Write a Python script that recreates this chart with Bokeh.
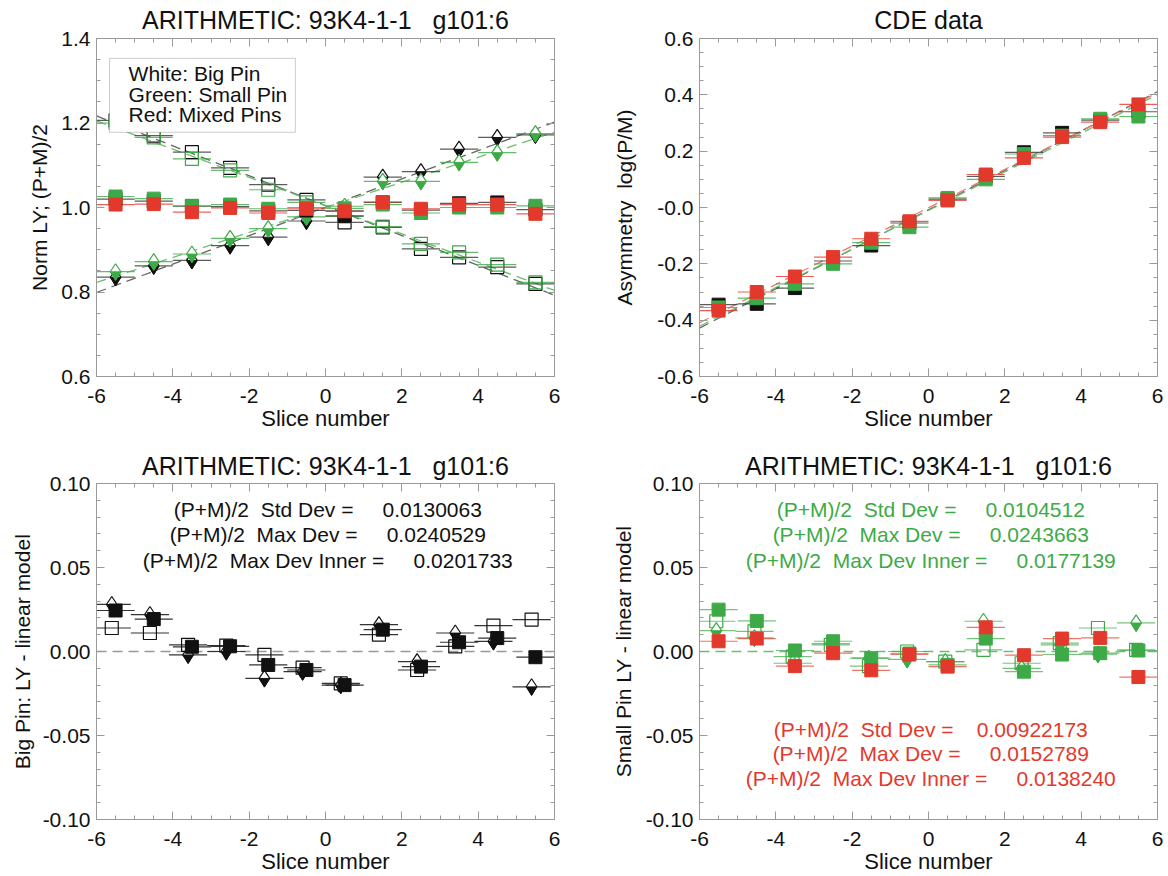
import numpy as np
from bokeh.plotting import figure
from bokeh.layouts import column, row
from bokeh.models import (FixedTicker, LinearAxis, Range1d, NumeralTickFormatter,
                          Label, BoxAnnotation, CustomLabelingPolicy)
from bokeh.embed import file_html
from bokeh.resources import INLINE

FONT = "Liberation Sans"
FRAME = "#9a9a9a"
BLACK = "#111111"
GREEN = "#3daa47"
RED = "#e3392c"
TEXT = "#111111"

# ---------------- data ----------------
slices = [-5.5, -4.5, -3.5, -2.5, -1.5, -0.5, 0.5, 1.5, 2.5, 3.5, 4.5, 5.5]

# top-left: normalised LY
big_p = [0.835, 0.862, 0.875, 0.910, 0.930, 0.968, 0.992, 1.072, 1.085, 1.138, 1.166, 1.172]
big_m = [1.206, 1.170, 1.131, 1.094, 1.054, 1.018, 0.965, 0.953, 0.902, 0.882, 0.859, 0.819]
big_avg = [1.020, 1.015, 1.003, 1.002, 0.992, 0.993, 0.980, 1.012, 0.994, 1.010, 1.012, 0.995]
small_p = [0.848, 0.872, 0.890, 0.927, 0.950, 0.978, 1.003, 1.062, 1.062, 1.107, 1.130, 1.175]
small_m = [1.200, 1.166, 1.115, 1.088, 1.042, 1.012, 0.979, 0.955, 0.914, 0.894, 0.865, 0.823]
small_avg = [1.026, 1.021, 1.004, 1.007, 0.997, 1.000, 0.998, 1.007, 0.987, 1.000, 1.000, 1.004]
mixed_avg = [1.007, 1.008, 0.989, 0.999, 0.987, 0.997, 0.991, 1.013, 0.997, 1.007, 1.007, 0.985]

# top-right: asymmetry log(P/M)
asym_big = [-0.345, -0.342, -0.286, -0.190, -0.135, -0.055, 0.030, 0.110, 0.196, 0.265, 0.310, 0.340]
asym_small = [-0.355, -0.322, -0.271, -0.200, -0.125, -0.070, 0.034, 0.100, 0.190, 0.255, 0.315, 0.323]
asym_mixed = [-0.366, -0.300, -0.245, -0.176, -0.111, -0.049, 0.025, 0.117, 0.176, 0.250, 0.303, 0.366]

# bottom-left: big pin residuals
res_big_p = [0.028, 0.022, -0.002, 0.000, -0.016, -0.012, -0.020, 0.016, -0.006, 0.011, 0.006, -0.021]
res_big_m = [0.014, 0.011, 0.004, 0.0035, -0.002, -0.0096, -0.019, 0.010, -0.011, 0.003, 0.0154, 0.019]
res_big_avg = [0.0244, 0.0193, 0.0028, 0.0031, -0.008, -0.011, -0.020, 0.013, -0.009, 0.0055, 0.008, -0.0034]

# bottom-right: small pin and mixed pin residuals
res_small_p = [0.0124, 0.0081, -0.007, 0.0047, -0.004, -0.0047, -0.006, 0.018, -0.010, 0.004, -0.0016, 0.017]
res_small_m = [0.018, 0.012, -0.003, 0.004, -0.0087, 0.000, -0.006, 0.001, -0.007, 0.005, 0.014, 0.001]
res_small_avg = [0.0249, 0.0182, 0.0006, 0.0061, -0.004, -0.0012, -0.008, 0.0077, -0.012, -0.0018, -0.001, 0.0006]
res_mixed_avg = [0.0061, 0.0077, -0.0087, -0.001, -0.0112, -0.0018, -0.009, 0.0144, -0.0022, 0.0077, 0.0081, -0.0152]

# tick labels
x_ticks = [-6, -4, -2, 0, 2, 4, 6]
norm_ticks = [0.6, 0.8, 1.0, 1.2, 1.4]
asym_ticks = [-0.6, -0.4, -0.2, 0.0, 0.2, 0.4, 0.6]
res_ticks = [-0.10, -0.05, 0.0, 0.05, 0.10]

NB = "\u00a0"
def nb(s):
    return s.replace(" ", NB)

title_arith = nb("ARITHMETIC: 93K4-1-1   g101:6")
title_cde = "CDE data"
legend_lines = ["White: Big Pin", "Green: Small Pin", "Red: Mixed Pins"]
big_stats = ["(P+M)/2  Std Dev =     0.0130063",
             "(P+M)/2  Max Dev =     0.0240529",
             "(P+M)/2  Max Dev Inner =     0.0201733"]
small_stats = ["(P+M)/2  Std Dev =     0.0104512",
               "(P+M)/2  Max Dev =     0.0243663",
               "(P+M)/2  Max Dev Inner =     0.0177139"]
mixed_stats = ["(P+M)/2  Std Dev =    0.00922173",
               "(P+M)/2  Max Dev =     0.0152789",
               "(P+M)/2  Max Dev Inner =     0.0138240"]

xs = np.array(slices)


def minors(ticks, n):
    out = []
    for a, b in zip(ticks[:-1], ticks[1:]):
        step = (b - a) / n
        out += [round(a + k * step, 6) for k in range(1, n)]
    return out


def tick_axis(ax, ticks, nminor, fmt=None, labels=True, overrides=None):
    ax.ticker = FixedTicker(ticks=list(ticks), minor_ticks=minors(list(ticks), nminor))
    ax.axis_line_color = FRAME
    ax.major_tick_line_color = FRAME
    ax.minor_tick_line_color = FRAME
    ax.major_tick_in = 8
    ax.major_tick_out = 0
    ax.minor_tick_in = 4
    ax.minor_tick_out = 0
    if labels:
        ax.formatter = NumeralTickFormatter(format=fmt)
        ax.major_label_text_font = FONT
        ax.major_label_text_font_size = "21px"
        ax.major_label_text_color = TEXT
        if overrides:
            ax.major_label_overrides = overrides
    else:
        ax.major_label_policy = CustomLabelingPolicy(code="return new Set()")
        ax.major_label_text_font_size = "1px"
        ax.major_label_standoff = 0


def make_fig(w, h, left, right, top, bottom, yr, yticks, yminor, yfmt, ylabel,
             title, title_standoff, ylab_standoff, overrides=None):
    p = figure(width=w, height=h, x_range=Range1d(-6, 6), y_range=Range1d(*yr),
               output_backend="svg", toolbar_location=None,
               x_axis_type=None, y_axis_type=None,
               min_border_left=left, min_border_right=right,
               min_border_top=top, min_border_bottom=bottom)
    p.outline_line_color = FRAME
    p.background_fill_color = "white"
    p.border_fill_color = "white"
    xb = LinearAxis(axis_label="Slice number")
    tick_axis(xb, x_ticks, 4, "0")
    xb.major_label_standoff = 12
    xb.axis_label_standoff = 0
    xb.axis_label_text_font = FONT
    xb.axis_label_text_font_size = "22px"
    xb.axis_label_text_font_style = "normal"
    xb.axis_label_text_color = TEXT
    p.add_layout(xb, "below")
    xa = LinearAxis()
    tick_axis(xa, x_ticks, 4, labels=False)
    p.add_layout(xa, "above")
    yl = LinearAxis(axis_label=ylabel)
    tick_axis(yl, yticks, yminor, yfmt, overrides=overrides)
    yl.major_label_standoff = 6
    yl.axis_label_standoff = ylab_standoff
    yl.axis_label_text_font = FONT
    yl.axis_label_text_font_size = "21px"
    yl.axis_label_text_font_style = "normal"
    yl.axis_label_text_color = TEXT
    p.add_layout(yl, "left")
    yr_ax = LinearAxis()
    tick_axis(yr_ax, yticks, yminor, labels=False)
    p.add_layout(yr_ax, "right")
    p.title.text = title
    p.title.align = "center"
    p.title.text_font = FONT
    p.title.text_font_size = "25px"
    p.title.text_font_style = "normal"
    p.title.text_color = TEXT
    p.title.standoff = title_standoff
    return p


def hbar(p, x, y, color, alpha=1.0):
    x = np.asarray(x)
    p.segment(x0=x - 0.5, x1=x + 0.5, y0=y, y1=y, line_color=color, line_width=1.2, line_alpha=alpha)


def open_sq(p, x, y, color):
    p.scatter(x=x, y=y, marker="square", size=13, fill_color=None, line_color=color, line_width=1.2)


def filled_sq(p, x, y, color):
    p.scatter(x=x, y=y, marker="square", size=13, fill_color=color, line_color=color, line_width=1)


def half_diamond(p, x, y, color, yspan):
    dy = 3.0 * yspan / 338.0
    p.scatter(x=x, y=y, marker="diamond", size=16, fill_color="white", line_color=color, line_width=1.2)
    p.scatter(x=x, y=np.asarray(y) - dy, marker="inverted_triangle", size=10,
              fill_color=color, line_color=color, line_width=1)


def fit_line(p, x, y, color):
    k, b = np.polyfit(x, y, 1)
    p.line(x=[-6, 6], y=[k * -6 + b, k * 6 + b], line_color=color, line_dash="10 6", line_width=1.3)


# ---------------- top-left ----------------
p1 = make_fig(584, 438, 96, 30, 38, 62, (0.6, 1.4), norm_ticks, 4, "0.0",
              "Norm LY; (P+M)/2", title_arith, 2, 7)
fit_line(p1, xs, big_p, "#666666")
fit_line(p1, xs, big_m, "#666666")
fit_line(p1, xs, small_p, "#6cbf6f")
fit_line(p1, xs, small_m, "#6cbf6f")
for ser, col in [(big_m, "#333333"), (small_m, GREEN), (big_p, "#333333"), (small_p, GREEN),
                 (big_avg, "#333333"), (small_avg, GREEN), (mixed_avg, RED)]:
    hbar(p1, xs, ser, col, 0.8)
open_sq(p1, xs, big_m, BLACK)
open_sq(p1, xs, small_m, GREEN)
half_diamond(p1, xs, big_p, BLACK, 0.8)
half_diamond(p1, xs, small_p, GREEN, 0.8)
filled_sq(p1, xs, big_avg, BLACK)
filled_sq(p1, xs, small_avg, GREEN)
filled_sq(p1, xs, mixed_avg, RED)
p1.add_layout(BoxAnnotation(left=-5.66, right=-0.79, top=1.353, bottom=1.178,
                            fill_color="white", fill_alpha=1.0, line_color="#555555", line_width=1))
for i, t in enumerate(legend_lines):
    p1.add_layout(Label(x=-5.16, y=1.317 - i * 0.049, text=t, text_font=FONT,
                        text_font_size="21px", text_baseline="middle", text_color=TEXT))

# ---------------- top-right ----------------
p2 = make_fig(584, 438, 115, 11, 38, 62, (-0.6, 0.6), asym_ticks, 4, "0.0",
              nb("Asymmetry  log(P/M)"), title_cde, 2, 18, overrides={0: "-0.0"})
fit_line(p2, xs, asym_big, "#666666")
fit_line(p2, xs, asym_small, "#6cbf6f")
fit_line(p2, xs, asym_mixed, "#ec7b72")
for ser, col in [(asym_big, "#333333"), (asym_small, GREEN), (asym_mixed, RED)]:
    hbar(p2, xs, ser, col, 0.8)
filled_sq(p2, xs, asym_big, BLACK)
filled_sq(p2, xs, asym_small, GREEN)
filled_sq(p2, xs, asym_mixed, RED)

# ---------------- bottom-left ----------------
p3 = make_fig(584, 438, 96, 30, 45, 55, (-0.1, 0.1), res_ticks, 5, "0.00",
              "Big Pin: LY - linear model", title_arith, 0, 6)
p3.line(x=[-6, 6], y=[0, 0], line_color="#999999", line_dash="10 6", line_width=1.3)
xo = xs - 0.1
hbar(p3, xo, res_big_m, "#333333")
hbar(p3, xo, res_big_p, "#333333")
hbar(p3, xs, res_big_avg, "#333333")
open_sq(p3, xo, res_big_m, BLACK)
half_diamond(p3, xo, res_big_p, BLACK, 0.2)
filled_sq(p3, xs, res_big_avg, BLACK)
for i, t in enumerate(big_stats):
    p3.add_layout(Label(x=0.06, y=0.0846 - i * 0.0151, text=nb(t), text_font=FONT,
                        text_font_size="21px", text_align="center", text_baseline="middle",
                        text_color=TEXT))

# ---------------- bottom-right ----------------
p4 = make_fig(584, 438, 115, 11, 45, 55, (-0.1, 0.1), res_ticks, 5, "0.00",
              "Small Pin LY - linear model", title_arith, 0, 8)
p4.line(x=[-6, 6], y=[0, 0], line_color="#6cbf6f", line_dash="10 6", line_width=1.3)
xo = xs - 0.06
hbar(p4, xo, res_small_m, GREEN, 0.7)
hbar(p4, xo, res_small_p, GREEN, 0.7)
hbar(p4, xs, res_small_avg, GREEN, 0.7)
hbar(p4, xs, res_mixed_avg, RED, 0.7)
open_sq(p4, xo, res_small_m, GREEN)
half_diamond(p4, xo, res_small_p, GREEN, 0.2)
filled_sq(p4, xs, res_small_avg, GREEN)
filled_sq(p4, xs, res_mixed_avg, RED)
for i, t in enumerate(small_stats):
    p4.add_layout(Label(x=0.06, y=0.0846 - i * 0.0151, text=nb(t), text_font=FONT,
                        text_font_size="21px", text_align="center", text_baseline="middle",
                        text_color=GREEN))
for i, t in enumerate(mixed_stats):
    p4.add_layout(Label(x=0.06, y=-0.0462 - i * 0.0148, text=nb(t), text_font=FONT,
                        text_font_size="21px", text_align="center", text_baseline="middle",
                        text_color=RED))

layout = column(row(p1, p2), row(p3, p4))
open("out.html", "w").write(file_html(layout, INLINE))
